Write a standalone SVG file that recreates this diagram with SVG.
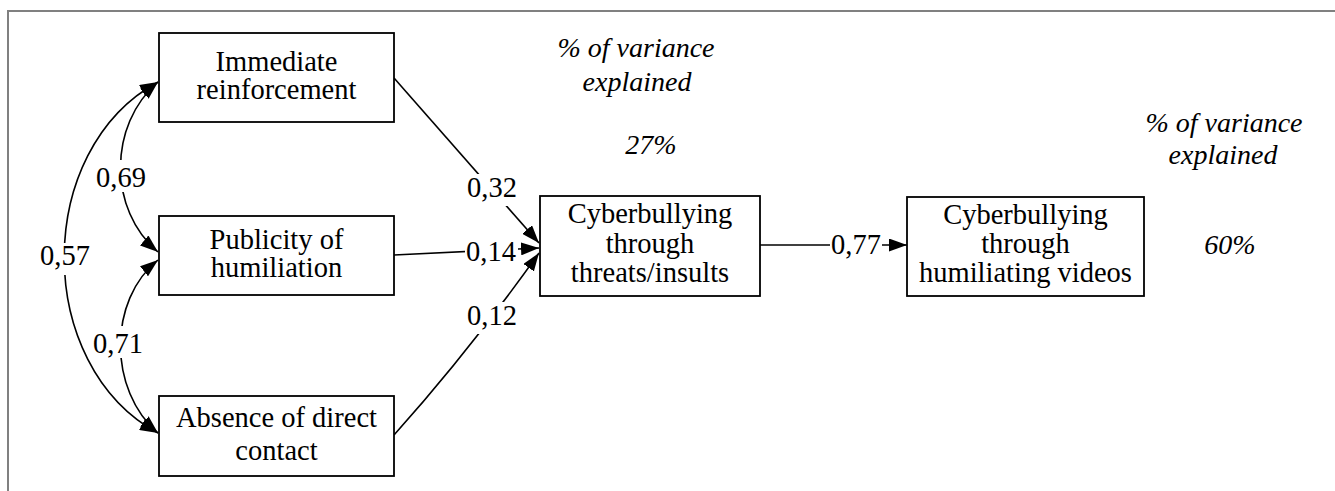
<svg xmlns="http://www.w3.org/2000/svg" width="1335" height="491" viewBox="0 0 1335 491">
<style>
.box{fill:#fff;stroke:#000;stroke-width:1.8}
.t{font-size:28.5px;fill:#000;text-anchor:middle}
.it{font-size:28px;font-style:italic;fill:#000;text-anchor:middle}
.lbl{font-size:28.5px;fill:#000;text-anchor:middle}
.bg{fill:#fff;stroke:none}
.c{fill:none;stroke:#000;stroke-width:1.6}
.frame{fill:none;stroke:#808080;stroke-width:2}
</style>
<defs>
<marker id="ah" viewBox="0 0 18 13" refX="18" refY="6.5" markerWidth="18" markerHeight="13" markerUnits="userSpaceOnUse" orient="auto-start-reverse">
<path d="M0,0 L18,6.5 L0,13 Z" fill="#000"/>
</marker>
</defs>
<rect width="1335" height="491" fill="#fff"/>
<path class="frame" d="M8,491 V11 H1335"/>
<g id="connectors">
<path class="c" d="M158,82 C33,150 33,365 158,433" marker-start="url(#ah)" marker-end="url(#ah)"/>
<path class="c" d="M158,82 C108,125 108,210 158,252" marker-start="url(#ah)" marker-end="url(#ah)"/>
<path class="c" d="M158,260 C108,300 108,390 158,433" marker-start="url(#ah)" marker-end="url(#ah)"/>
<path class="c" d="M394,78 L539,243" marker-end="url(#ah)"/>
<path class="c" d="M394,255 L539,248" marker-end="url(#ah)"/>
<path class="c" d="M394,435 Q470,350 539,253" marker-end="url(#ah)"/>
<path class="c" d="M760,245 L907,245" marker-end="url(#ah)"/>
<rect class="bg" x="38" y="243" width="54" height="32"/>
<rect class="bg" x="94" y="160" width="54" height="32"/>
<rect class="bg" x="91" y="326" width="54" height="32"/>
<rect class="bg" x="465" y="174" width="54" height="32"/>
<rect class="bg" x="465" y="240" width="53" height="24"/>
<rect class="bg" x="465" y="302" width="54" height="32"/>
<rect class="bg" x="830" y="234" width="52" height="24"/>
<text class="lbl" style="font-family:'Liberation Serif',serif" x="65" y="265">0,57</text>
<text class="lbl" style="font-family:'Liberation Serif',serif" x="121" y="187">0,69</text>
<text class="lbl" style="font-family:'Liberation Serif',serif" x="118" y="353">0,71</text>
<text class="lbl" style="font-family:'Liberation Serif',serif" x="492" y="197">0,32</text>
<text class="lbl" style="font-family:'Liberation Serif',serif" x="491" y="261">0,14</text>
<text class="lbl" style="font-family:'Liberation Serif',serif" x="492" y="325">0,12</text>
<text class="lbl" style="font-family:'Liberation Serif',serif" x="856" y="254">0,77</text>
</g>
<g id="n-immediate">
<rect class="box" x="159" y="33" width="235" height="89"/>
<text class="t" style="font-family:'Liberation Serif',serif" x="276.5" y="71">Immediate</text>
<text class="t" style="font-family:'Liberation Serif',serif" x="276.5" y="99">reinforcement</text>
</g>
<g id="n-publicity">
<rect class="box" x="159" y="216" width="235" height="79"/>
<text class="t" style="font-family:'Liberation Serif',serif" x="276.5" y="249">Publicity of</text>
<text class="t" style="font-family:'Liberation Serif',serif" x="276.5" y="277">humiliation</text>
</g>
<g id="n-absence">
<rect class="box" x="159" y="396" width="235" height="80"/>
<text class="t" style="font-family:'Liberation Serif',serif" x="276.5" y="427">Absence of direct</text>
<text class="t" style="font-family:'Liberation Serif',serif" x="276.5" y="460">contact</text>
</g>
<g id="n-threats">
<rect class="box" x="540" y="196" width="220" height="100"/>
<text class="t" style="font-family:'Liberation Serif',serif" x="650" y="223">Cyberbullying</text>
<text class="t" style="font-family:'Liberation Serif',serif" x="650" y="253">through</text>
<text class="t" style="font-family:'Liberation Serif',serif" x="650" y="282">threats/insults</text>
</g>
<g id="n-videos">
<rect class="box" x="907" y="197" width="237" height="99"/>
<text class="t" style="font-family:'Liberation Serif',serif" x="1025.5" y="224">Cyberbullying</text>
<text class="t" style="font-family:'Liberation Serif',serif" x="1025.5" y="253">through</text>
<text class="t" style="font-family:'Liberation Serif',serif" x="1025.5" y="282">humiliating videos</text>
</g>
<g id="variance-1">
<text class="it" style="font-family:'Liberation Serif',serif" x="636" y="57">% of variance</text>
<text class="it" style="font-family:'Liberation Serif',serif" x="637" y="91">explained</text>
<text class="it" style="font-family:'Liberation Serif',serif" x="651" y="154">27%</text>
</g>
<g id="variance-2">
<text class="it" style="font-family:'Liberation Serif',serif" x="1224" y="132">% of variance</text>
<text class="it" style="font-family:'Liberation Serif',serif" x="1223" y="164">explained</text>
<text class="it" style="font-family:'Liberation Serif',serif" x="1230" y="254">60%</text>
</g>
</svg>
